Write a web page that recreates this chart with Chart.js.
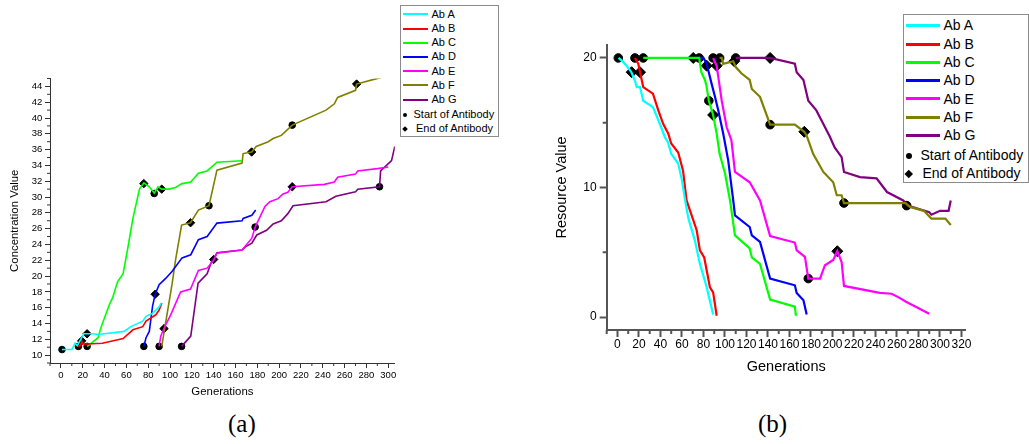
<!DOCTYPE html>
<html>
<head>
<meta charset="utf-8">
<title>Antibody concentration and resource</title>
<script src="https://cdn.jsdelivr.net/npm/chart.js@4.4.1/dist/chart.umd.min.js"></script>
<style>
  body { margin: 0; width: 1029px; height: 444px; background: #fff; position: relative; overflow: hidden;
         font-family: "Liberation Sans", Arial, sans-serif; }
  canvas { position: absolute; }
  #concChart { left: 0; top: 0; }
  #resChart { left: 540px; top: 0; }
  .legend { position: absolute; border: 1px solid #8c8c8c; background: #fff; box-sizing: border-box; }
  .legend div { position: absolute; white-space: nowrap; color: #000; }
  .caption { position: absolute; top: 410px; font-family: "Liberation Serif", "DejaVu Serif", serif; font-size: 25px; color: #000; }
</style>
</head>
<body>
<canvas id="concChart" width="400" height="410"></canvas>
<canvas id="resChart" width="489" height="400"></canvas>
<div class="legend" id="concLegend" style="left:400px; top:5px; width:99px; height:132px;"></div>
<div class="legend" id="resLegend" style="left:903px; top:14px; width:126px; height:169px;"></div>
<div class="caption" style="left:228px;">(a)</div>
<div class="caption" style="left:758px;">(b)</div>

<script>
const seriesNames = ['Ab A', 'Ab B', 'Ab C', 'Ab D', 'Ab E', 'Ab F', 'Ab G'];
const seriesColors = ['#00ffff', '#ff0000', '#00ff00', '#0000ff', '#ff00ff', '#808000', '#800080'];

// (a) concentration value per generation
const concGenA = [1, 10, 13, 15, 21, 29, 34, 58, 64, 75, 78, 84, 90, 92];
const concValA = [10.7, 10.7, 11.5, 11.2, 12.7, 12.7, 12.6, 13.0, 13.6, 14.3, 14.9, 15.3, 16.1, 16.6];
const concGenB = [16, 18, 19, 20, 24, 38, 57, 66, 75, 78, 87, 90, 92.5];
const concValB = [11.1, 11.2, 11.8, 11.4, 11.4, 11.5, 12.1, 13.2, 13.6, 14.3, 15.1, 15.7, 16.6];
const concGenC = [24, 26, 34, 37, 41.5, 44.5, 47.5, 52, 57, 61, 66, 72, 76, 81, 85.5, 89, 92.4, 99, 105, 111, 119, 126, 134, 143, 166];
const concValC = [11.1, 11.3, 12.2, 13.6, 15.3, 16.4, 17.3, 19.3, 20.3, 23.3, 27.3, 31.0, 31.8, 31.3, 30.5, 31.3, 31.0, 31.0, 31.2, 31.7, 31.9, 33.0, 33.3, 34.4, 34.6];
const concGenD = [76, 78, 81, 84, 86.4, 90, 96, 102, 111, 119, 126, 134, 143, 166, 167, 175, 178.5];
const concValD = [11.1, 12.2, 13.0, 16.2, 17.7, 18.9, 19.7, 20.6, 22.3, 22.7, 24.6, 25.0, 26.7, 27.0, 27.3, 27.7, 28.35];
const concGenE = [90, 91.5, 94.5, 100.6, 109.7, 118.8, 126, 134, 140, 143, 166, 175, 178, 187, 191.5, 199, 203.6, 208, 212, 241.5, 250.6, 253.6, 270, 272, 290, 300];
const concValE = [11.1, 12.4, 13.4, 15.1, 18.0, 18.35, 20.7, 21.0, 22.0, 22.9, 23.3, 24.8, 26.2, 28.8, 29.4, 29.8, 30.4, 30.6, 31.3, 31.6, 31.9, 32.5, 32.9, 33.3, 33.6, 33.8];
const concGenF = [92.4, 99, 102, 105, 110.6, 118.8, 126, 135.7, 143, 166, 167, 174.8, 179, 190, 194.5, 202, 212, 243, 250.6, 253.6, 270, 271, 288.5, 306];
const concValF = [11.1, 16.6, 19.1, 22.0, 26.45, 26.75, 28.35, 28.9, 33.4, 34.3, 35.5, 35.7, 36.4, 37.0, 37.4, 37.8, 39.1, 41.0, 41.8, 42.6, 43.5, 44.3, 44.95, 45.6];
const concGenG = [110.6, 119, 125.7, 134, 138.5, 140, 143, 166, 169, 175, 179.5, 188.5, 194.5, 202, 208, 212.7, 243, 252, 270, 272, 292, 293, 303, 306];
const concValG = [11.1, 12.4, 19.1, 20.3, 22.0, 22.1, 22.95, 23.3, 23.7, 24.15, 25.2, 25.8, 26.6, 27.0, 27.9, 28.9, 29.4, 30.1, 30.65, 31.0, 31.3, 33.3, 34.6, 36.4];
const concStartGen = [1, 16, 24, 76, 90, 110.6, 85.5, 135.7, 212, 178, 292];
const concStartVal = [10.7, 11.1, 11.1, 11.1, 11.1, 11.1, 30.45, 28.9, 39.1, 26.2, 31.3];
const concEndGen = [24, 19, 76, 92.4, 86.4, 94.5, 118.8, 140, 174.8, 212, 271];
const concEndVal = [12.7, 11.8, 31.7, 31.0, 17.7, 13.35, 26.75, 22.1, 35.7, 31.3, 44.3];
const concXTicks = [0, 20, 40, 60, 80, 100, 120, 140, 160, 180, 200, 220, 240, 260, 280, 300];
const concXMinor = [-10, 10, 30, 50, 70, 90, 110, 130, 150, 170, 190, 210, 230, 250, 270, 290];
const concYTicks = [10, 12, 14, 16, 18, 20, 22, 24, 26, 28, 30, 32, 34, 36, 38, 40, 42, 44];
const concYMinor = [9, 11, 13, 15, 17, 19, 21, 23, 25, 27, 29, 31, 33, 35, 37, 39, 41, 43, 45];

// (b) resource value per generation
const resGenA = [1, 4, 8.5, 13, 16, 18, 21, 24, 33, 39.5, 44, 47, 50, 56.5, 60, 63, 66, 72, 76.7, 83, 89];
const resValA = [20, 19.8, 19.4, 18.9, 18.3, 17.75, 17.75, 16.7, 16.2, 14.9, 13.9, 13.5, 12.6, 11.85, 10.55, 9.0, 7.6, 5.9, 4.1, 2.3, 0.2];
const resGenB = [16.3, 19.4, 21, 24, 33, 38, 42.6, 47.3, 50, 56.5, 61, 64.3, 73.7, 76.7, 80.7, 86, 89, 92.3];
const resValB = [20, 19.55, 18.9, 17.75, 17.25, 15.95, 14.9, 14.15, 13.4, 12.7, 11.3, 9.0, 6.7, 5.15, 4.6, 2.3, 1.9, 0.1];
const resGenC = [24, 76, 78, 81.4, 83, 85, 89, 92.3, 95, 100, 104.7, 109.3, 123, 125, 132.6, 142, 165, 166];
const resValC = [20, 20, 18.9, 18.3, 17.75, 16.7, 15.6, 14.15, 12.6, 11.1, 9.0, 6.3, 5.3, 4.6, 4.1, 1.35, 0.8, 0.1];
const resGenD = [76, 80, 83, 87.6, 90.7, 93.8, 98.4, 103, 107.7, 109.3, 123, 125, 132.6, 142, 165, 166.7, 173, 176];
const resValD = [20, 20, 19.55, 18.0, 17.0, 15.95, 14.15, 12.1, 9.0, 7.85, 6.95, 6.3, 5.8, 2.97, 2.45, 1.86, 1.3, 0.2];
const resGenE = [89, 92.3, 97, 101.6, 106, 109.3, 123, 132.6, 142, 165, 166.7, 174.4, 177.5, 188.4, 193, 200.7, 204.5, 208.5, 210.7, 244, 255, 262, 268, 290];
const resValE = [20, 19.4, 16.7, 14.65, 13.65, 11.2, 10.4, 9.0, 6.25, 5.75, 5.15, 4.65, 2.97, 2.97, 4.0, 4.4, 5.1, 4.25, 2.4, 1.86, 1.8, 1.5, 1.2, 0.25];
const resGenF = [95, 97, 98.4, 107.7, 110, 115.5, 123, 125, 132.6, 142, 165, 173.8, 176, 182, 191.5, 200.7, 204, 208.5, 210.7, 244, 268, 272, 285, 292, 305, 310];
const resValF = [20, 20, 19.55, 19.75, 19.3, 18.8, 18.3, 17.6, 17.0, 14.85, 14.85, 14.3, 14.0, 12.6, 11.2, 10.4, 9.4, 9.4, 8.8, 8.8, 8.8, 8.5, 8.2, 7.6, 7.6, 7.1];
const resGenG = [110, 142, 165, 166.7, 173, 177.5, 185, 191.5, 197.7, 202, 208.5, 210.7, 225.6, 241, 250.7, 265.8, 270, 290, 292, 300, 308, 310];
const resValG = [20, 20, 19.55, 18.9, 18.3, 16.7, 15.95, 14.9, 13.9, 13.1, 12.35, 11.2, 10.8, 10.7, 9.65, 9.0, 8.6, 8.1, 7.9, 8.2, 8.2, 9.0];
const resStartGen = [0.8, 16.3, 24, 76, 89, 95, 110, 85, 142, 177.5, 210.7, 269];
const resStartVal = [20, 20, 20, 20, 20, 20, 20, 16.7, 14.85, 2.97, 8.8, 8.6];
const resEndGen = [13.2, 21, 70.5, 83, 92.3, 108.6, 142, 89, 173.8, 204.5];
const resEndVal = [18.9, 18.9, 20, 19.4, 19.4, 19.75, 20, 15.6, 14.3, 5.08];
const resXTicks = [0, 20, 40, 60, 80, 100, 120, 140, 160, 180, 200, 220, 240, 260, 280, 300, 320];
const resXMinor = [-10, 10, 30, 50, 70, 90, 110, 130, 150, 170, 190, 210, 230, 250, 270, 290, 310];
const resYTicks = [0, 10, 20];
const resYMinor = [5, 15];

const FONT = 'Liberation Sans, Arial, sans-serif';

function pairs(xs, ys) {
  return xs.map((x, i) => ({ x: x, y: ys[i] }));
}

// short outward ticks between the labelled ones
const minorTicks = {
  id: 'minorTicks',
  afterDraw(chart, args, opts) {
    const { ctx, chartArea, scales } = chart;
    ctx.save();
    ctx.strokeStyle = opts.color;
    ctx.lineWidth = opts.width;
    ctx.beginPath();
    opts.x.forEach(v => {
      const px = scales.x.getPixelForValue(v);
      ctx.moveTo(px, chartArea.bottom);
      ctx.lineTo(px, chartArea.bottom + opts.length);
    });
    opts.y.forEach(v => {
      const py = scales.y.getPixelForValue(v);
      ctx.moveTo(chartArea.left, py);
      ctx.lineTo(chartArea.left - opts.length, py);
    });
    ctx.stroke();
    ctx.restore();
  }
};

function makeChart(id, s) {
  const datasets = s.series.map((d, i) => ({
    label: seriesNames[i],
    data: pairs(d[0], d[1]),
    borderColor: seriesColors[i],
    borderWidth: s.lineWidth,
    pointRadius: 0,
    tension: 0
  }));
  datasets.push({
    label: 'Start of Antibody',
    data: pairs(s.startGen, s.startVal),
    showLine: false,
    pointStyle: 'circle',
    pointRadius: s.dotRadius,
    backgroundColor: '#000',
    borderColor: '#000'
  });
  datasets.push({
    label: 'End of Antibody',
    data: pairs(s.endGen, s.endVal),
    showLine: false,
    pointStyle: 'rectRot',
    pointRadius: s.diamondRadius,
    backgroundColor: '#000',
    borderColor: '#000'
  });

  return new Chart(document.getElementById(id), {
    type: 'line',
    data: { datasets: datasets },
    plugins: [minorTicks],
    options: {
      responsive: false,
      animation: false,
      layout: { padding: s.padding },
      plugins: {
        legend: { display: false },
        tooltip: { enabled: false },
        minorTicks: { x: s.xMinor, y: s.yMinor, length: s.minorLen, color: s.axisColor, width: s.axisWidth }
      },
      scales: {
        x: {
          type: 'linear',
          min: s.xMin,
          max: s.xMax,
          afterBuildTicks: sc => { sc.ticks = s.xTicks.map(v => ({ value: v })); },
          afterFit: sc => { sc.height = s.xHeight; },
          grid: { drawOnChartArea: false, tickLength: s.majorLen, color: s.axisColor, tickWidth: s.axisWidth },
          border: { color: s.axisColor, width: s.axisWidth },
          ticks: { autoSkip: false, maxRotation: 0, color: '#000', padding: s.xTickPad,
                   font: { family: FONT, size: s.tickSize } },
          title: { display: true, text: 'Generations', color: '#000',
                   font: { family: FONT, size: s.titleSize }, padding: { top: 0, bottom: s.xTitlePad } }
        },
        y: {
          type: 'linear',
          min: s.yMin,
          max: s.yMax,
          afterBuildTicks: sc => { sc.ticks = s.yTicks.map(v => ({ value: v })); },
          afterFit: sc => { sc.width = s.yWidth; },
          grid: { drawOnChartArea: false, tickLength: s.majorLen, color: s.axisColor, tickWidth: s.axisWidth },
          border: { color: s.axisColor, width: s.axisWidth },
          ticks: { color: '#000', padding: s.yTickPad, font: { family: FONT, size: s.tickSize } },
          title: { display: true, text: s.yTitle, color: '#000',
                   font: { family: FONT, size: s.titleSize }, padding: { top: s.yTitlePad, bottom: 0 } }
        }
      }
    }
  });
}

makeChart('concChart', {
  series: [[concGenA, concValA], [concGenB, concValB], [concGenC, concValC], [concGenD, concValD],
           [concGenE, concValE], [concGenF, concValF], [concGenG, concValG]],
  startGen: concStartGen, startVal: concStartVal, endGen: concEndGen, endVal: concEndVal,
  xTicks: concXTicks, xMinor: concXMinor, yTicks: concYTicks, yMinor: concYMinor,
  xMin: -10, xMax: 306, yMin: 9, yMax: 45,
  padding: { left: 0, top: 78.5, right: 2.4, bottom: 7 },
  xHeight: 40, yWidth: 50,
  lineWidth: 1.6, dotRadius: 3.3, diamondRadius: 4.2,
  axisColor: '#333', axisWidth: 1, majorLen: 5, minorLen: 3,
  tickSize: 9.5, titleSize: 11.4, xTickPad: 1.3, yTickPad: 2.7, xTitlePad: 4.5, yTitlePad: 8.2,
  yTitle: 'Concentration Value'
});

makeChart('resChart', {
  series: [[resGenA, resValA], [resGenB, resValB], [resGenC, resValC], [resGenD, resValD],
           [resGenE, resValE], [resGenF, resValF], [resGenG, resValG]],
  startGen: resStartGen, startVal: resStartVal, endGen: resEndGen, endVal: resEndVal,
  xTicks: resXTicks, xMinor: resXMinor, yTicks: resYTicks, yMinor: resYMinor,
  xMin: -10, xMax: 324, yMin: -1, yMax: 21,
  padding: { left: 0, top: 45, right: 63.2, bottom: 20 },
  xHeight: 50, yWidth: 66.7,
  lineWidth: 2.2, dotRadius: 4.3, diamondRadius: 5.5,
  axisColor: '#555', axisWidth: 2, majorLen: 7, minorLen: 4,
  tickSize: 12, titleSize: 14.5, xTickPad: 0.8, yTickPad: 3, xTitlePad: 4.6, yTitlePad: 13.3,
  yTitle: 'Resource Value'
});

// legend boxes: seven line swatches plus the two marker entries
function buildLegend(id, L) {
  const box = document.getElementById(id);
  const add = (html, left, cy) => {
    const d = document.createElement('div');
    d.style.left = left + 'px';
    d.style.top = (cy - L.fontSize * 0.6) + 'px';
    d.style.fontSize = L.fontSize + 'px';
    d.style.lineHeight = (L.fontSize * 1.2) + 'px';
    d.innerHTML = html;
    box.appendChild(d);
  };
  const mark = (left, cy, w, h, css) => {
    const d = document.createElement('div');
    d.style.cssText = 'left:' + left + 'px;top:' + (cy - h / 2) + 'px;width:' + w + 'px;height:' + h + 'px;' + css;
    box.appendChild(d);
  };
  seriesNames.forEach((name, i) => {
    const cy = L.firstRow + L.rowStep * i;
    mark(L.swatchLeft, cy, L.swatchLen, L.swatchWidth, 'background:' + seriesColors[i] + ';');
    add(name, L.textLeft, cy);
  });
  const ds = L.dotSize;
  mark(L.markLeft - ds / 2, L.startRow, ds, ds, 'background:#000;border-radius:50%;');
  add('Start of Antibody', L.startText, L.startRow);
  const dd = L.diamondSize;
  mark(L.markLeft - dd / 2, L.endRow, dd, dd, 'background:#000;transform:rotate(45deg);');
  add('End of Antibody', L.endText, L.endRow);
}

buildLegend('concLegend', {
  fontSize: 11, firstRow: 8.3, rowStep: 14.2, swatchLeft: 1.5, swatchLen: 25.5, swatchWidth: 2,
  textLeft: 30.5, markLeft: 3.8, dotSize: 4, diamondSize: 4, startRow: 108.7, startText: 12.5,
  endRow: 123, endText: 15
});

buildLegend('resLegend', {
  fontSize: 14, firstRow: 10.7, rowStep: 18.3, swatchLeft: 1.7, swatchLen: 34.3, swatchWidth: 3,
  textLeft: 39.4, markLeft: 5, dotSize: 6, diamondSize: 5.5, startRow: 140.7, startText: 16.5,
  endRow: 158.4, endText: 18.5
});
</script>
</body>
</html>
